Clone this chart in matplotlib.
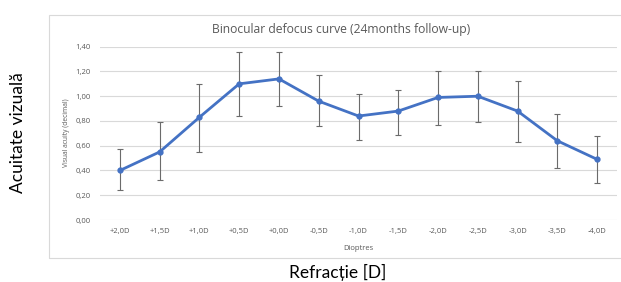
import matplotlib
matplotlib.use("Agg")
import matplotlib.pyplot as plt
from matplotlib.patches import Rectangle
import numpy as np

categories = ["+2,0D", "+1,5D", "+1,0D", "+0,5D", "+0,0D", "-0,5D", "-1,0D",
              "-1,5D", "-2,0D", "-2,5D", "-3,0D", "-3,5D", "-4,0D"]
acuity = [0.40, 0.55, 0.83, 1.10, 1.14, 0.96, 0.84, 0.88, 0.99, 1.00, 0.88, 0.64, 0.49]
upper = [0.57, 0.79, 1.10, 1.36, 1.36, 1.17, 1.02, 1.05, 1.20, 1.20, 1.12, 0.86, 0.68]
lower = [0.24, 0.32, 0.55, 0.84, 0.92, 0.76, 0.65, 0.69, 0.77, 0.79, 0.63, 0.42, 0.30]
yticks = [0.0, 0.2, 0.4, 0.6, 0.8, 1.0, 1.2, 1.4]

plt.rcParams['font.family'] = ['Open Sans', 'DejaVu Sans']

W, H = 621, 282
fig = plt.figure(figsize=(W / 100, H / 100), dpi=100)

# chart frame (right edge runs off the picture)
fig.add_artist(Rectangle((49.5 / W, 1 - 258 / H), (640 - 49.5) / W, (258 - 15) / H,
                         transform=fig.transFigure, fill=False,
                         edgecolor="#d9d9d9", linewidth=0.8))

ax_l, ax_r, ax_t, ax_b = 100, 617, 46.7, 220
ax = fig.add_axes([ax_l / W, 1 - ax_b / H, (ax_r - ax_l) / W, (ax_b - ax_t) / H])

x = np.arange(len(categories))
y = np.array(acuity)
yerr = np.vstack([y - np.array(lower), np.array(upper) - y])

ax.errorbar(x, y, yerr=yerr, fmt='none', ecolor="#6b6b6b", elinewidth=0.8,
            capsize=2, capthick=0.8, zorder=2)
ax.plot(x, y, color="#4472C4", linewidth=2, marker='o', markersize=3.5, zorder=3)

ax.set_xlim(-0.5, len(categories) - 0.5)
ax.set_ylim(0, 1.4)
ax.set_yticks(yticks)
ax.set_yticklabels([f"{v:.2f}".replace('.', ',') for v in yticks])
ax.set_xticks(x)
ax.set_xticklabels(categories)
ax.grid(axis='y', color="#d9d9d9", linewidth=0.8)
ax.set_axisbelow(True)
for s in ax.spines.values():
    s.set_visible(False)
ax.tick_params(axis='both', length=0, labelsize=5.5, labelcolor="#595959")
ax.tick_params(axis='y', pad=7)
ax.tick_params(axis='x', pad=6)

fig.text(341 / W, 1 - 30 / H, "Binocular defocus curve (24months follow-up)",
         ha='center', va='center', fontsize=8.7, color="#595959")
fig.text(66 / W, 1 - 133 / H, "Visual acuity (decimal)", rotation=90,
         ha='center', va='center', fontsize=4.8, color="#595959")
fig.text(358 / W, 1 - 248 / H, "Dioptres", ha='center', va='center',
         fontsize=5.5, color="#595959")
fig.text(18 / W, 1 - 133 / H, "Acuitate vizuală", rotation=90,
         ha='center', va='center', fontsize=12.5, color="black", family="Lato")
fig.text(338 / W, 1 - 272 / H, "Refracție [D]", ha='center', va='center',
         fontsize=12.5, color="black", family="Lato")

fig.savefig("out.png", dpi=100, facecolor="white")
